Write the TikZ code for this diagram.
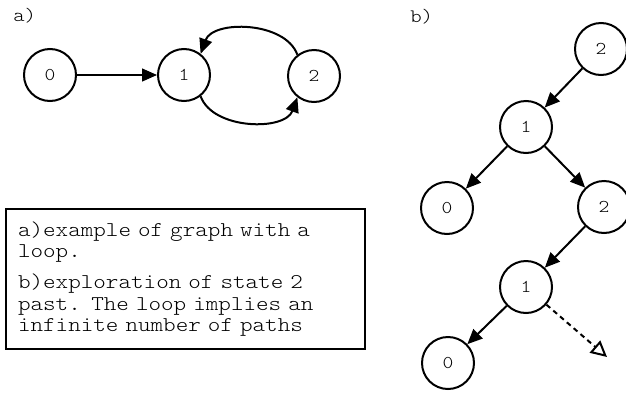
\documentclass[tikz,border=0pt]{standalone}
\usepackage{fontspec}
\setmainfont{lmmonolt10-regular.otf}[FakeStretch=1.14]
\usetikzlibrary{arrows.meta}

\tikzset{
  state/.style={circle, draw, minimum size=52, inner sep=0,
    font=\fontsize{18}{18}\selectfont},
  tip/.style={-{Triangle[length=15pt,width=13pt]}},
  label/.style={anchor=west, font=\fontsize{19}{19}\selectfont},
}

\begin{document}
\begin{tikzpicture}[
    x=1pt, y=1pt, line width=2
  ]
  \useasboundingbox (0,0) rectangle (626,-394);

  % a)
  \node[label] (la) at (9,-16) {a)};
  \node[state] (a0) at (50,-75) {0};
  \node[state] (a1) at (184,-75) {1};
  \node[state] (a2) at (314,-76) {2};

  \draw[tip, line width=1.3] (a0) -- (a1);
  \draw[tip] (a2.128) to[out=110, in=70, looseness=0.95] (a1.52);
  \draw[tip] (a1.-52) to[out=-70, in=-110, looseness=0.95] (a2.-128);

  % note
  \node[draw, anchor=north west, text width=335, inner xsep=12,
    minimum height=140, align=left,
    font=\fontsize{21}{21.3}\selectfont] (note) at (5,-208)
    {a)example of graph with a\\loop.\\[10pt]
     b)exploration of state 2\\past. The loop implies an\\infinite number of paths};

  % b)
  \node[label] (lb) at (406,-17) {b)};
  \node[state] (b2) at (601,-49) {2};
  \node[state] (b1) at (526,-127) {1};
  \node[state] (b0) at (447,-208) {0};
  \node[state] (c2) at (604,-207) {2};
  \node[state] (c1) at (526,-287) {1};
  \node[state] (c0) at (448,-363) {0};
  \coordinate (open) at (607,-357);

  \draw[tip] (b2) -- (b1);
  \draw[tip] (b1) -- (b0);
  \draw[tip] (b1) -- (c2);
  \draw[tip] (c2) -- (c1);
  \draw[tip] (c1) -- (c0);
  \draw[-{Triangle[open,length=16pt,width=16pt]}, dash pattern=on 5pt off 4pt]
    (c1) -- (open);

\end{tikzpicture}
\end{document}
